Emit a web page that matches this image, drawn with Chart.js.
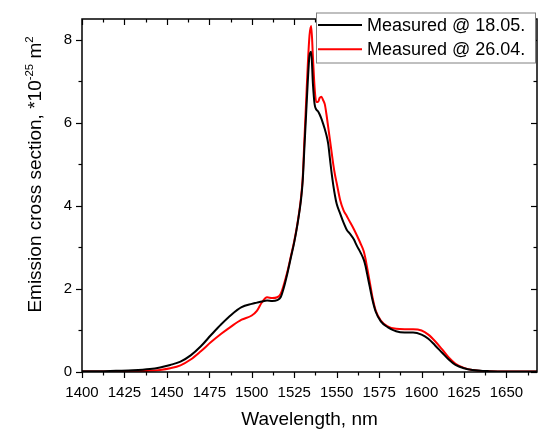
<!DOCTYPE html>
<html>
<head>
<meta charset="utf-8">
<title>Emission cross section</title>
<script src="https://cdn.jsdelivr.net/npm/chart.js@4.4.1/dist/chart.umd.min.js"></script>
<style>
  html, body { margin: 0; padding: 0; background: #fff; }
  #chart { display: block; }
</style>
</head>
<body>
<canvas id="chart" width="542" height="431"></canvas>
<script>
// wavelength grid, nm
const wavelength = [
  1400, 1410, 1420, 1430, 1440, 1446, 1452, 1458, 1464, 1470,
  1476, 1482, 1488, 1494, 1500, 1503, 1506, 1509, 1512, 1515,
  1517, 1519, 1521, 1523, 1525, 1527, 1529, 1530, 1531, 1532,
  1533, 1534, 1535, 1536, 1537, 1538, 1539, 1540, 1541, 1542,
  1543, 1544, 1545, 1546, 1547, 1548, 1549, 1550, 1552, 1554,
  1556, 1558, 1560, 1562, 1564, 1566, 1567, 1568, 1569, 1570,
  1571, 1573, 1576, 1580, 1585, 1590, 1595, 1600, 1604, 1608,
  1612, 1616, 1620, 1625, 1630, 1640, 1650, 1660, 1670
];

// emission cross section, *10^-25 m^2
const measured1805 = [
  0.02, 0.02, 0.03, 0.04, 0.07, 0.11, 0.17, 0.25, 0.40, 0.62,
  0.89, 1.15, 1.38, 1.56, 1.64, 1.67, 1.70, 1.72, 1.71, 1.73,
  1.80, 2.05, 2.38, 2.75, 3.12, 3.58, 4.15, 4.60, 5.40, 6.20,
  7.00, 7.62, 7.71, 6.95, 6.45, 6.32, 6.28, 6.20, 6.10, 5.98,
  5.85, 5.70, 5.50, 5.15, 4.80, 4.50, 4.25, 4.05, 3.82, 3.60,
  3.42, 3.32, 3.20, 3.03, 2.88, 2.70, 2.55, 2.35, 2.15, 1.95,
  1.75, 1.45, 1.22, 1.08, 0.98, 0.95, 0.95, 0.90, 0.80, 0.64,
  0.47, 0.30, 0.17, 0.09, 0.05, 0.02, 0.01, 0.01, 0.01
];

const measured2604 = [
  0.01, 0.01, 0.02, 0.02, 0.03, 0.05, 0.09, 0.16, 0.30, 0.50,
  0.72, 0.92, 1.10, 1.26, 1.36, 1.47, 1.68, 1.80, 1.78, 1.80,
  1.88, 2.12, 2.42, 2.78, 3.15, 3.60, 4.20, 4.67, 5.60, 6.50,
  7.40, 8.10, 8.33, 7.60, 6.85, 6.50, 6.50, 6.60, 6.63, 6.55,
  6.45, 6.20, 5.90, 5.60, 5.30, 5.00, 4.75, 4.55, 4.15, 3.90,
  3.75, 3.60, 3.45, 3.28, 3.10, 2.90, 2.72, 2.50, 2.28, 2.05,
  1.82, 1.48, 1.24, 1.10, 1.04, 1.03, 1.03, 1.00, 0.90, 0.74,
  0.55, 0.35, 0.20, 0.10, 0.05, 0.02, 0.01, 0.01, 0.01
];

const seriesLabels = ["Measured @ 18.05.", "Measured @ 26.04."];
const seriesColors = ["#000000", "#ff0000"];

// labelled ticks
const xTickValues = [1400, 1425, 1450, 1475, 1500, 1525, 1550, 1575, 1600, 1625, 1650];
const yTickValues = [0, 2, 4, 6, 8];

const FONT = "'Liberation Sans', Arial, sans-serif";

function toPoints(values) {
  return wavelength.map((w, i) => ({ x: w, y: values[i] }));
}

// box, mirrored ticks, minor ticks, legend and rotated y title
const decorations = {
  id: "decorations",
  afterDatasetsDraw(chart) {
    const { ctx, chartArea: a, scales: { x, y } } = chart;
    ctx.save();
    ctx.strokeStyle = "#000";

    const seg = (x1, y1, x2, y2) => {
      ctx.beginPath();
      ctx.moveTo(x1, y1);
      ctx.lineTo(x2, y2);
      ctx.stroke();
    };

    ctx.lineWidth = 1.2;
    for (let v = 1400; v <= x.max; v += 12.5) {
      const px = Math.round(x.getPixelForValue(v)) + 0.5;
      const len = v % 25 === 0 ? 6 : 3.5;
      seg(px, a.bottom, px, a.bottom + len);
      seg(px, a.top, px, a.top + len);
    }
    for (let v = 0; v <= y.max; v += 1) {
      const py = Math.round(y.getPixelForValue(v)) + 0.5;
      const len = v % 2 === 0 ? 6 : 3.5;
      seg(a.left - len, py, a.left, py);
      seg(a.right - len, py, a.right, py);
    }

    ctx.lineWidth = 1.5;
    ctx.strokeRect(a.left, a.top, a.right - a.left, a.bottom - a.top);

    // legend
    const bx = 316, by = 12.5, bw = 219, bh = 50;
    ctx.fillStyle = "#fff";
    ctx.fillRect(bx, by, bw, bh);
    ctx.strokeStyle = "#808080";
    ctx.lineWidth = 1;
    ctx.strokeRect(bx + 0.5, by + 0.5, bw, bh);
    ctx.font = "18px " + FONT;
    ctx.textBaseline = "middle";
    ctx.textAlign = "left";
    chart.data.datasets.forEach((ds, i) => {
      const ly = 25 + i * 24.3;
      ctx.strokeStyle = ds.borderColor;
      ctx.lineWidth = 2;
      seg(318, ly, 362, ly);
      ctx.fillStyle = "#000";
      ctx.fillText(ds.label, 367, ly + 1);
    });

    // y title with superscripts
    const parts = [
      ["Emission cross section, *10", false],
      ["-25", true],
      [" m", false],
      ["2", true]
    ];
    const size = 19;
    const widthOf = (t, sup) => {
      ctx.font = (sup ? size * 0.6 : size) + "px " + FONT;
      return ctx.measureText(t).width;
    };
    const total = parts.reduce((s, [t, sup]) => s + widthOf(t, sup), 0);
    ctx.translate(41, 174.5);
    ctx.rotate(-Math.PI / 2);
    ctx.fillStyle = "#000";
    ctx.textBaseline = "alphabetic";
    let cx = -total / 2;
    parts.forEach(([t, sup]) => {
      const w = widthOf(t, sup);
      ctx.fillText(t, cx, sup ? -size * 0.42 : 0);
      cx += w;
    });
    ctx.restore();
  }
};

new Chart(document.getElementById("chart"), {
  type: "line",
  data: {
    datasets: [measured1805, measured2604].map((values, i) => ({
      label: seriesLabels[i],
      data: toPoints(values),
      borderColor: seriesColors[i],
      borderWidth: 2,
      pointRadius: 0,
      cubicInterpolationMode: "monotone",
      fill: false
    }))
  },
  options: {
    responsive: false,
    animation: false,
    layout: { padding: { top: 4, right: 5, left: 0, bottom: 0 } },
    plugins: {
      legend: { display: false },
      tooltip: { enabled: false }
    },
    scales: {
      x: {
        type: "linear",
        min: 1400,
        max: 1668,
        grid: { display: false, drawTicks: false },
        border: { display: false },
        ticks: {
          padding: 12,
          color: "#000",
          font: { family: FONT, size: 15 },
          maxRotation: 0,
          autoSkip: false,
          callback: v => String(v)
        },
        afterBuildTicks(scale) {
          scale.ticks = xTickValues.map(v => ({ value: v }));
        },
        afterFit(scale) { scale.height = 59; },
        title: {
          display: true,
          text: "Wavelength, nm",
          color: "#000",
          font: { family: FONT, size: 19 },
          padding: { top: 0, bottom: 0 }
        }
      },
      y: {
        type: "linear",
        min: 0,
        max: 8.5,
        grid: { display: false, drawTicks: false },
        border: { display: false },
        ticks: {
          padding: 10,
          color: "#000",
          font: { family: FONT, size: 15 },
          callback: v => String(v)
        },
        afterBuildTicks(scale) {
          scale.ticks = yTickValues.map(v => ({ value: v }));
        },
        afterFit(scale) { scale.height = undefined; scale.width = 82; }
      }
    }
  },
  plugins: [decorations]
});
</script>
</body>
</html>
